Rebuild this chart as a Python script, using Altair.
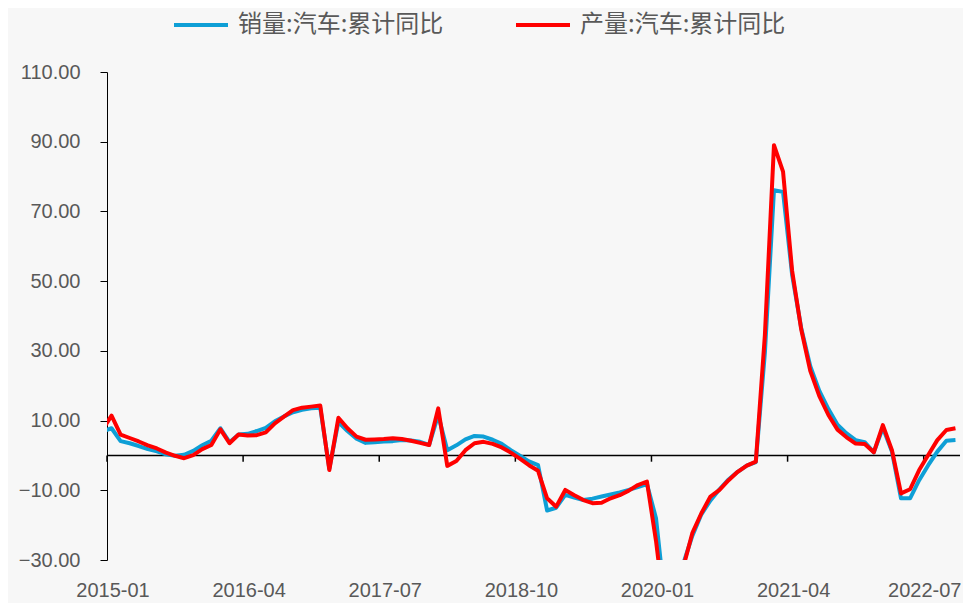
import altair as alt
import pandas as pd

# ---- data ----
months = [str(p) for p in pd.period_range("2014-12", "2022-10", freq="M")]

sales = [
    6.9,
    7.8, 4.1, 3.5, 2.7, 1.8, 1.2, 0.3, -0.1, 0.2, 1.3, 2.9, 4.2,
    7.8, 3.8, 6.0, 6.2, 7.0, 7.9, 9.8, 11.2, 12.4, 13.1, 13.5, 13.7,
    -3.8, 9.6, 7.0, 4.8, 3.6, 3.8, 4.0, 4.1, 4.4, 4.3, 3.9, 3.0,
    11.6, 1.5, 2.9, 4.6, 5.6, 5.4, 4.5, 3.3, 1.5, -0.1, -1.7, -2.8,
    -15.8, -15.0, -11.3, -12.1, -12.8, -12.4, -11.8, -11.2, -10.6, -9.9, -9.1, -8.2,
    -18.0, -42.0, -42.4, -31.1, -23.1, -16.9, -12.9, -9.7, -6.9, -4.7, -2.9, -1.9,
    29.5, 76.1, 75.6, 51.8, 36.6, 25.6, 18.5, 13.3, 8.8, 6.3, 4.4, 3.8,
    0.9, 7.9, 1.1, -12.3, -12.3, -7.1, -2.8, 1.1, 4.2, 4.4,
]

production = [
    7.3,
    11.4, 6.0, 5.0, 4.0, 2.9, 2.0, 0.8, -0.1, -0.8, 0.1, 1.8, 3.0,
    7.5, 3.5, 6.0, 5.7, 5.8, 6.6, 9.2, 11.1, 13.0, 13.7, 14.0, 14.3,
    -4.2, 10.8, 7.8, 5.4, 4.5, 4.6, 4.7, 4.9, 4.7, 4.2, 3.6, 3.0,
    13.5, -3.0, -1.6, 1.5, 3.5, 3.9, 3.3, 2.3, 0.8, -0.9, -2.8, -4.4,
    -12.3, -14.7, -9.9, -11.4, -12.8, -13.7, -13.6, -12.3, -11.4, -10.1, -8.5, -7.5,
    -24.5, -45.8, -44.8, -32.1, -22.3, -16.6, -11.8, -9.9, -7.1, -4.7, -2.9, -1.8,
    34.6, 89.0, 81.4, 53.0, 36.2, 24.3, 17.0, 11.6, 7.4, 5.2, 3.4, 3.3,
    0.9, 8.7, 1.5, -10.9, -9.7, -4.2, 0.1, 4.4, 7.3, 7.8,
]

series_names = ["销量:汽车:累计同比", "产量:汽车:累计同比"]
series_colors = ["#0E9FD6", "#FF0000"]
x_tick_labels = ["2015-01", "2016-04", "2017-07", "2018-10", "2020-01", "2021-04", "2022-07"]
y_ticks = [-30, -10, 10, 30, 50, 70, 90, 110]


def month_index(s):
    y, m = s.split("-")
    return (int(y) - 2015) * 12 + int(m) - 1


rows = []
for name, vals in zip(series_names, [sales, production]):
    for mo, v in zip(months, vals):
        rows.append({"month": mo, "idx": month_index(mo), "series": name, "value": v})
df = pd.DataFrame(rows)

tick_idx = [month_index(s) for s in x_tick_labels]
tick_df = pd.DataFrame({"label": x_tick_labels, "edge": [i - 0.5 for i in tick_idx]})
zero_df = pd.DataFrame({"v": [0]})

label_expr = (
    "[" + ",".join("'%s'" % s for s in x_tick_labels) + "]"
    + "[indexof([" + ",".join(str(i) for i in tick_idx) + "], datum.value)]"
)

xscale = alt.Scale(domain=[-0.5, 93.5], nice=False, zero=False)
yscale = alt.Scale(domain=[-30, 110], nice=False, zero=False)

xaxis = alt.Axis(
    values=tick_idx, labelExpr=label_expr, domain=False, ticks=False, grid=False,
    labelPadding=20, labelFontSize=20, labelColor="#595959", labelFont="Liberation Sans",
    labelBaseline="top", labelFlush=False, labelOverlap=False,
    labelOffset={"condition": {"test": "datum.value == %d" % tick_idx[-1], "value": -4}, "value": 1},
)
yaxis = alt.Axis(
    values=y_ticks, format=".2f", grid=False, domainColor="#000000", domainWidth=1,
    tickColor="#000000", tickSize=7, tickWidth=1, labelPadding=20, labelFontSize=20,
    labelColor="#595959", labelFont="Liberation Sans",
)

color = alt.Color(
    "series:N",
    scale=alt.Scale(domain=series_names, range=series_colors),
    title=None,
    legend=alt.Legend(
        orient="none", legendX=65, legendY=-76, direction="horizontal",
        symbolType="stroke", symbolSize=2916, symbolStrokeWidth=4,
        labelFontSize=24, labelFont="Noto Sans CJK SC", labelColor="#595959",
        labelOffset=8, labelLimit=0, columnPadding=64, padding=0,
    ),
)

base = alt.Chart(df).encode(
    x=alt.X("idx:Q", scale=xscale, axis=xaxis, title=None),
    y=alt.Y("value:Q", scale=yscale, axis=yaxis, title=None),
    color=color,
)

blue = base.transform_filter(alt.datum.series == series_names[0]).mark_line(
    strokeWidth=4, clip=True, strokeJoin="round"
)
red = base.transform_filter(alt.datum.series == series_names[1]).mark_line(
    strokeWidth=4, clip=True, strokeJoin="round"
)

zero = alt.Chart(zero_df).mark_rule(color="#000000", strokeWidth=1.5).encode(
    y=alt.Y("v:Q", scale=yscale)
)
ticks = alt.Chart(tick_df).mark_rule(color="#000000", strokeWidth=1.5).encode(
    x=alt.X("edge:Q", scale=xscale),
    y=alt.datum(0),
    y2=alt.datum(-1.8),
)

chart = (
    alt.layer(zero, ticks, blue, red)
    .properties(
        width=853,
        height=488,
        padding={"left": 99, "top": 64, "right": 3, "bottom": 43},
        autosize=alt.AutoSizeParams(type="none"),
        background="#F7F7F7",
    )
    .configure_view(strokeWidth=0)
)

chart.save("out.html", embed_options={"renderer": "svg", "actions": False})
